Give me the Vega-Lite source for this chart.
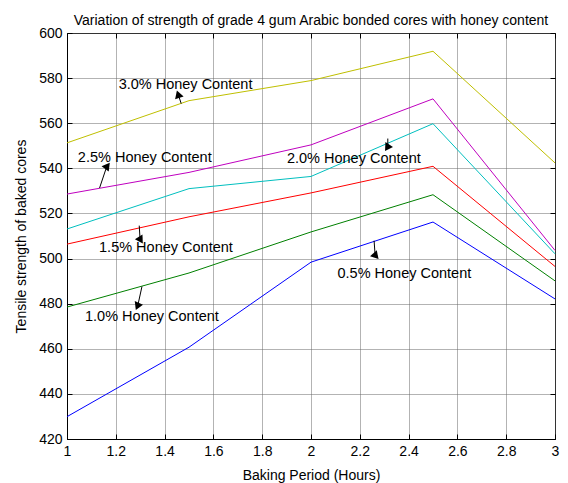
{
  "$schema": "https://vega.github.io/schema/vega-lite/v6.json",
  "width": 488,
  "height": 406,
  "autosize": "none",
  "padding": {"left": 67, "top": 33, "right": 13, "bottom": 44},
  "background": "white",
  "title": {"text": "Variation of strength of grade 4 gum Arabic bonded cores with honey content", "fontSize": 14, "fontWeight": "normal", "font": "Liberation Sans", "color": "black", "anchor": "middle", "offset": -2},
  "config": {
    "font": "Liberation Sans",
    "view": {"stroke": "black", "strokeWidth": 1},
    "axis": {
      "labelFont": "Liberation Sans", "labelFontSize": 14, "labelColor": "black",
      "titleFont": "Liberation Sans", "titleFontSize": 14, "titleFontWeight": "normal", "titleColor": "black",
      "domainColor": "black", "tickColor": "black", "tickSize": -5,
      "gridColor": "#666666", "gridDash": [1, 1], "gridWidth": 1, "gridOpacity": 1
    }
  },
  "datasets": {
    "lines": [
      {"series": "3.0%", "x": 1, "y": 551.3}, {"series": "3.0%", "x": 1.5, "y": 570.0}, {"series": "3.0%", "x": 2, "y": 578.9}, {"series": "3.0%", "x": 2.5, "y": 591.9}, {"series": "3.0%", "x": 3, "y": 542.4},
      {"series": "2.5%", "x": 1, "y": 528.6}, {"series": "2.5%", "x": 1.5, "y": 538.2}, {"series": "2.5%", "x": 2, "y": 550.4}, {"series": "2.5%", "x": 2.5, "y": 570.8}, {"series": "2.5%", "x": 3, "y": 503.6},
      {"series": "2.0%", "x": 1, "y": 513.1}, {"series": "2.0%", "x": 1.5, "y": 531.0}, {"series": "2.0%", "x": 2, "y": 536.4}, {"series": "2.0%", "x": 2.5, "y": 559.8}, {"series": "2.0%", "x": 3, "y": 502.1},
      {"series": "1.5%", "x": 1, "y": 506.4}, {"series": "1.5%", "x": 1.5, "y": 518.5}, {"series": "1.5%", "x": 2, "y": 529.1}, {"series": "1.5%", "x": 2.5, "y": 540.9}, {"series": "1.5%", "x": 3, "y": 496.5},
      {"series": "1.0%", "x": 1, "y": 478.5}, {"series": "1.0%", "x": 1.5, "y": 493.6}, {"series": "1.0%", "x": 2, "y": 511.8}, {"series": "1.0%", "x": 2.5, "y": 528.3}, {"series": "1.0%", "x": 3, "y": 490.1},
      {"series": "0.5%", "x": 1, "y": 429.9}, {"series": "0.5%", "x": 1.5, "y": 460.7}, {"series": "0.5%", "x": 2, "y": 498.4}, {"series": "0.5%", "x": 2.5, "y": 516.2}, {"series": "0.5%", "x": 3, "y": 482.1}
    ],
    "notes": [
      {"label": "3.0% Honey Content", "tx": 1.4858, "ty": 576.8, "x1": 1.4681, "y1": 568.7, "x2": 1.4571, "y2": 572.3},
      {"label": "2.5% Honey Content", "tx": 1.3187, "ty": 544.6, "x1": 1.1335, "y1": 531.3, "x2": 1.1626, "y2": 540.7},
      {"label": "2.0% Honey Content", "tx": 2.1755, "ty": 544.2, "x1": 2.3148, "y1": 553.2, "x2": 2.3148, "y2": 549.6},
      {"label": "1.5% Honey Content", "tx": 1.4055, "ty": 504.5, "x1": 1.2961, "y1": 514.6, "x2": 1.2994, "y2": 508.6},
      {"label": "1.0% Honey Content", "tx": 1.3481, "ty": 474.0, "x1": 1.3072, "y1": 487.6, "x2": 1.2904, "y2": 479.3},
      {"label": "0.5% Honey Content", "tx": 2.3827, "ty": 493.2, "x1": 2.2586, "y1": 507.9, "x2": 2.2628, "y2": 501.5}
    ]
  },
  "resolve": {"axis": {"x": "independent", "y": "independent"}},
  "layer": [
    {
      "data": {"name": "lines"},
      "mark": {"type": "line", "strokeWidth": 1},
      "encoding": {
        "x": {"field": "x", "type": "quantitative", "scale": {"domain": [1, 3], "nice": false, "zero": false},
              "axis": {"orient": "bottom", "values": [1, 1.2, 1.4, 1.6, 1.8, 2, 2.2, 2.4, 2.6, 2.8, 3], "format": ".1~f", "title": "Baking Period (Hours)", "grid": true, "labelPadding": 10, "titlePadding": 10, "labelFlush": false}},
        "y": {"field": "y", "type": "quantitative", "scale": {"domain": [420, 600], "nice": false, "zero": false},
              "axis": {"orient": "left", "values": [420, 440, 460, 480, 500, 520, 540, 560, 580, 600], "title": "Tensile strength of baked cores", "grid": true, "labelPadding": 10, "titlePadding": 10, "labelFlush": false}},
        "color": {"field": "series", "type": "nominal", "legend": null,
                  "scale": {"domain": ["3.0%", "2.5%", "2.0%", "1.5%", "1.0%", "0.5%"], "range": ["#BFBF00", "#BF00BF", "#00BFBF", "#FF0000", "#008000", "#0000FF"]}},
        "detail": {"field": "series"}
      }
    },
    {
      "data": {"name": "notes"},
      "mark": {"type": "rule", "color": "black", "strokeWidth": 1},
      "encoding": {
        "x": {"field": "x1", "type": "quantitative", "axis": {"orient": "top", "values": [1, 1.2, 1.4, 1.6, 1.8, 2, 2.2, 2.4, 2.6, 2.8, 3], "labels": false, "domain": false, "grid": false, "title": null}},
        "y": {"field": "y1", "type": "quantitative", "axis": {"orient": "right", "values": [420, 440, 460, 480, 500, 520, 540, 560, 580, 600], "labels": false, "domain": false, "grid": false, "title": null}},
        "x2": {"field": "x2"},
        "y2": {"field": "y2"}
      }
    },
    {
      "data": {"name": "notes"},
      "mark": {"type": "point", "shape": "triangle", "filled": true, "color": "black", "opacity": 1, "size": 80, "strokeWidth": 0},
      "encoding": {
        "x": {"field": "x2", "type": "quantitative", "axis": null},
        "y": {"field": "y2", "type": "quantitative", "axis": null},
        "angle": {"field": "label", "type": "nominal", "legend": null,
                  "scale": {"domain": ["3.0% Honey Content", "2.5% Honey Content", "2.0% Honey Content", "1.5% Honey Content", "1.0% Honey Content", "0.5% Honey Content"], "range": [341.6, 18.6, 180, 176.7, 192.5, 176]}}
      }
    },
    {
      "data": {"name": "notes"},
      "mark": {"type": "text", "fontSize": 14.5, "font": "Liberation Sans", "color": "black", "align": "center", "baseline": "middle"},
      "encoding": {
        "x": {"field": "tx", "type": "quantitative", "axis": null},
        "y": {"field": "ty", "type": "quantitative", "axis": null},
        "text": {"field": "label"}
      }
    }
  ]
}
